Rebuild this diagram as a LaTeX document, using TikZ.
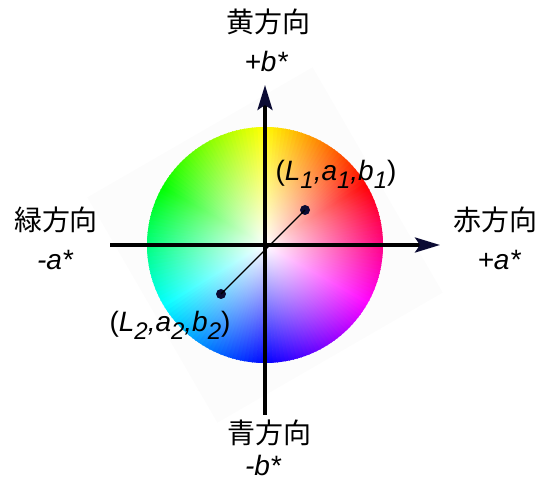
\PassOptionsToPackage{rgb}{xcolor}
\documentclass[tikz,border=0pt]{standalone}
\usepackage{fontspec}
\setmainfont{Liberation Sans}
\newfontfamily\jpfont{Noto Sans CJK JP}
\usepackage{tikz}
\usetikzlibrary{arrows.meta,positioning,calc,fadings}
\definecolor{Ink}{HTML}{000000}
\definecolor{Navy}{HTML}{0B0B33}
\definecolor{Faint}{HTML}{FCFCFC}
\tikzfading[name=whitecore,inner color=transparent!0,outer color=transparent!100]
\newcommand{\lowsub}[1]{\raisebox{-.28em}{\fontsize{24}{24}\selectfont #1}}
\tikzset{
  >={Stealth[length=25pt,width=15pt,inset=5pt,color=Navy]},
  axis/.style={->,line width=3.5pt,draw=Ink},
  dirlab/.style={font=\jpfont\fontsize{28}{30}\selectfont,inner sep=0pt},
  symlab/.style={font=\itshape\fontsize{28}{30}\selectfont,inner sep=0pt,anchor=base},
  ptlab/.style={font=\itshape\fontsize{28}{30}\selectfont,inner sep=0pt},
  dot/.style={circle,fill=Navy,inner sep=0pt,minimum size=10pt},
  seg/.style={line width=1.2pt,draw=Ink}
}

\begin{document}
\begin{tikzpicture}[x=1pt,y=1pt]
    \useasboundingbox (0,0) rectangle (539,482);
    \coordinate (o) at (265,237);
    \fill[Faint] ($(o)+(75:184)$) -- ($(o)+(165:184)$) -- ($(o)+(255:184)$) -- ($(o)+(345:184)$) -- cycle;
    % hue wheel, white towards the middle
    \begin{scope}
      \clip (o) circle (118);
      \foreach \a in {0,2,...,358}{
        \pgfmathsetmacro\h{mod(\a+330,360)/360}
        \definecolor{hue}{hsb}{\h,1,1}
        \fill[hue,draw=hue,line width=.8pt] (o) -- ++(\a:122) arc (\a:\a+2:122) -- cycle;
      }
    \end{scope}
    \fill[white,path fading=whitecore] (o) circle (118);
    \coordinate (top) at (265,397);
    \coordinate (bot) at (265,67);
    \coordinate (lft) at (110,237);
    \coordinate (rgt) at (440,237);
    \draw[axis] (bot)--(top);
    \draw[axis] (lft)--(rgt);
    \node[dot] (p1) at (305,272) {};
    \node[dot] (p2) at (221,188) {};
    \draw[seg] (p1.center)--(p2.center);
    \node[ptlab] (l1) at (336,308) {{\upshape(}L\lowsub{1},a\lowsub{1},b\lowsub{1}{\upshape)}};
    \node[ptlab] (l2) at (170,157) {{\upshape(}L\lowsub{2},a\lowsub{2},b\lowsub{2}{\upshape)}};
    \node[dirlab] (yl) at (268,460) {黄方向};
    \node[symlab] (yb) at (266,410) {+b*};
    \node[dirlab] (gl) at (56,262) {緑方向};
    \node[symlab] (ga) at (55,212) {-a*};
    \node[dirlab] (rl) at (495,262) {赤方向};
    \node[symlab] (ra) at (499,212) {+a*};
    \node[dirlab] (bl) at (269,49) {青方向};
    \node[symlab] (bb) at (263,6) {-b*};
  \end{tikzpicture}
\end{document}
